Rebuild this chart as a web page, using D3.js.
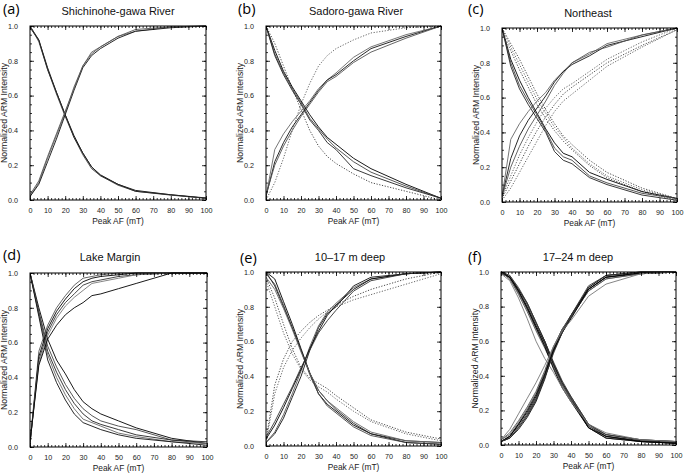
<!DOCTYPE html>
<html><head><meta charset="utf-8">
<script src="https://cdn.jsdelivr.net/npm/d3@7"></script>
<style>body{margin:0;background:#fff}svg{display:block}</style>
</head><body><svg id="c" width="685" height="473"></svg>
<script>
// AF demagnetisation steps (mT)
const afSteps = [0,5,10,15,20,25,30,35,40,50,60,80,100];
const yTicks = [0,0.2,0.4,0.6,0.8,1.0];
const xTicks = [0,10,20,30,40,50,60,70,80,90,100];

// (a) Shichinohe-gawa River
const aDemag = [
 [1.00,0.92,0.76,0.62,0.49,0.37,0.27,0.19,0.145,0.09,0.055,0.03,0.01],
 [1.00,0.91,0.75,0.61,0.48,0.36,0.26,0.18,0.14,0.085,0.05,0.028,0.01],
 [0.99,0.92,0.75,0.62,0.49,0.36,0.27,0.19,0.14,0.09,0.05,0.03,0.012]];
const aAcq = [
 [0.02,0.10,0.24,0.37,0.50,0.65,0.77,0.85,0.88,0.94,0.97,0.995,1.0],
 [0.02,0.09,0.22,0.35,0.49,0.63,0.76,0.83,0.87,0.93,0.97,0.99,1.0],
 [0.03,0.11,0.25,0.38,0.51,0.64,0.77,0.84,0.88,0.94,0.98,0.995,1.0]];

// (b) Sadoro-gawa River
const bDemag = [
 [1.0,0.86,0.74,0.65,0.57,0.49,0.42,0.36,0.32,0.24,0.18,0.09,0.01],
 [1.0,0.84,0.73,0.64,0.56,0.47,0.41,0.35,0.30,0.22,0.16,0.08,0.01],
 [1.0,0.83,0.72,0.63,0.55,0.46,0.40,0.33,0.29,0.18,0.14,0.07,0.01]];
const bAcq = [
 [0.02,0.29,0.38,0.45,0.51,0.57,0.64,0.69,0.73,0.82,0.88,0.95,1.0],
 [0.02,0.22,0.33,0.42,0.49,0.56,0.63,0.69,0.72,0.80,0.87,0.94,1.0],
 [0.03,0.20,0.31,0.40,0.48,0.55,0.62,0.68,0.71,0.79,0.85,0.93,1.0]];
const bDotDemag = [[1.0,0.90,0.77,0.64,0.52,0.40,0.31,0.25,0.21,0.15,0.10,0.05,0.0]];
const bDotAcq = [[0.0,0.10,0.24,0.40,0.55,0.67,0.77,0.83,0.87,0.92,0.96,0.99,1.0]];

// (c) Northeast
const cDemag = [
 [1.0,0.82,0.70,0.60,0.51,0.42,0.34,0.28,0.26,0.17,0.13,0.06,0.02],
 [1.0,0.80,0.67,0.58,0.50,0.41,0.31,0.26,0.24,0.15,0.11,0.05,0.02],
 [1.0,0.78,0.65,0.56,0.48,0.40,0.29,0.24,0.22,0.14,0.10,0.04,0.01]];
const cAcq = [
 [0.03,0.36,0.45,0.52,0.58,0.63,0.70,0.75,0.80,0.85,0.91,0.96,1.0],
 [0.03,0.25,0.38,0.47,0.54,0.61,0.69,0.75,0.79,0.84,0.90,0.95,1.0],
 [0.03,0.20,0.32,0.42,0.50,0.58,0.67,0.74,0.80,0.86,0.89,0.96,1.0]];
const cDotDemag = [
 [1.0,0.91,0.82,0.72,0.62,0.53,0.45,0.38,0.33,0.24,0.17,0.08,0.02],
 [1.0,0.89,0.79,0.69,0.59,0.51,0.43,0.37,0.31,0.22,0.15,0.07,0.02],
 [0.98,0.87,0.76,0.66,0.56,0.48,0.41,0.35,0.30,0.21,0.14,0.06,0.01]];
const cDotAcq = [
 [0.03,0.15,0.27,0.37,0.46,0.54,0.60,0.65,0.68,0.75,0.82,0.92,1.0],
 [0.02,0.12,0.22,0.32,0.41,0.49,0.56,0.62,0.66,0.73,0.80,0.90,0.99],
 [0.01,0.08,0.17,0.26,0.35,0.44,0.52,0.58,0.62,0.70,0.78,0.89,0.99]];

// (d) Lake Margin
const dDemag = [
 [1.0,0.80,0.62,0.50,0.42,0.33,0.26,0.22,0.19,0.15,0.11,0.05,0.02],
 [1.0,0.78,0.58,0.46,0.36,0.28,0.22,0.18,0.15,0.12,0.10,0.04,0.02],
 [1.0,0.77,0.55,0.43,0.33,0.25,0.19,0.15,0.13,0.10,0.07,0.04,0.03],
 [1.0,0.76,0.53,0.40,0.30,0.22,0.16,0.14,0.12,0.08,0.06,0.03,0.02],
 [1.0,0.75,0.50,0.37,0.27,0.19,0.14,0.12,0.10,0.07,0.05,0.03,0.01]];
const dAcq = [
 [0.02,0.55,0.70,0.80,0.87,0.93,0.97,0.98,0.99,1.0,1.0,1.0,1.0],
 [0.02,0.52,0.68,0.78,0.85,0.91,0.95,0.97,0.98,0.99,1.0,1.0,1.0],
 [0.02,0.50,0.66,0.76,0.83,0.88,0.93,0.95,0.96,0.98,0.99,1.0,1.0],
 [0.03,0.48,0.64,0.74,0.81,0.86,0.90,0.94,0.95,0.97,0.99,1.0,1.0],
 [0.03,0.47,0.62,0.70,0.76,0.80,0.83,0.87,0.88,0.91,0.94,1.0,1.0]];

// (e) 10–17 m deep
const eDemag = [
 [1.0,0.96,0.83,0.70,0.56,0.42,0.30,0.24,0.20,0.12,0.07,0.02,0.01],
 [0.99,0.93,0.81,0.68,0.55,0.41,0.30,0.23,0.19,0.11,0.06,0.02,0.01],
 [1.0,0.92,0.80,0.68,0.55,0.42,0.32,0.26,0.21,0.13,0.07,0.03,0.02],
 [0.97,0.90,0.79,0.67,0.54,0.42,0.32,0.26,0.22,0.14,0.08,0.03,0.02]];
const eAcq = [
 [0.02,0.07,0.16,0.28,0.40,0.55,0.68,0.76,0.80,0.92,0.97,0.99,1.0],
 [0.02,0.08,0.18,0.30,0.43,0.57,0.69,0.77,0.82,0.91,0.96,0.99,1.0],
 [0.04,0.12,0.22,0.33,0.44,0.56,0.66,0.75,0.81,0.90,0.96,0.99,1.0],
 [0.05,0.14,0.24,0.34,0.45,0.55,0.65,0.72,0.78,0.89,0.95,0.99,1.0]];
const eDotDemag = [
 [0.97,0.85,0.70,0.56,0.45,0.39,0.36,0.33,0.29,0.22,0.15,0.08,0.04],
 [0.95,0.80,0.65,0.53,0.44,0.38,0.34,0.31,0.27,0.20,0.14,0.07,0.03]];
const eDotAcq = [
 [0.03,0.35,0.50,0.60,0.66,0.71,0.75,0.78,0.81,0.86,0.90,0.96,1.0],
 [0.02,0.30,0.45,0.55,0.62,0.68,0.73,0.77,0.80,0.84,0.87,0.93,0.99]];

// (f) 17–24 m deep
const fDemag = [
 [1.0,0.97,0.89,0.80,0.69,0.59,0.46,0.35,0.27,0.11,0.05,0.025,0.015],
 [1.0,0.98,0.90,0.81,0.70,0.60,0.47,0.36,0.28,0.12,0.05,0.02,0.01],
 [1.0,0.97,0.88,0.79,0.68,0.58,0.46,0.35,0.26,0.10,0.04,0.02,0.01],
 [1.0,0.96,0.88,0.78,0.67,0.57,0.45,0.34,0.26,0.11,0.06,0.03,0.02],
 [0.99,0.97,0.90,0.82,0.71,0.60,0.47,0.36,0.27,0.10,0.04,0.02,0.01],
 [1.0,0.96,0.87,0.77,0.66,0.56,0.45,0.35,0.27,0.12,0.06,0.03,0.02],
 [1.0,0.97,0.89,0.79,0.68,0.57,0.44,0.33,0.25,0.10,0.05,0.02,0.01],
 [1.0,0.98,0.91,0.82,0.71,0.60,0.48,0.37,0.28,0.12,0.06,0.03,0.02],
 [0.99,0.95,0.85,0.73,0.60,0.50,0.42,0.33,0.25,0.12,0.07,0.03,0.02]];
const fAcq = [
 [0.02,0.05,0.12,0.19,0.28,0.40,0.55,0.66,0.74,0.90,0.97,0.995,1.0],
 [0.02,0.04,0.10,0.17,0.26,0.39,0.54,0.66,0.75,0.91,0.98,1.0,1.0],
 [0.02,0.05,0.11,0.18,0.27,0.40,0.56,0.67,0.75,0.90,0.97,0.99,1.0],
 [0.03,0.06,0.13,0.21,0.30,0.42,0.56,0.67,0.74,0.89,0.96,0.99,1.0],
 [0.02,0.04,0.09,0.16,0.25,0.38,0.54,0.65,0.74,0.91,0.98,1.0,1.0],
 [0.03,0.07,0.14,0.22,0.31,0.43,0.57,0.67,0.74,0.89,0.96,0.99,1.0],
 [0.02,0.05,0.12,0.20,0.29,0.41,0.55,0.65,0.73,0.90,0.97,0.995,1.0],
 [0.02,0.04,0.10,0.17,0.26,0.39,0.53,0.65,0.75,0.92,0.98,1.0,1.0],
 [0.03,0.09,0.18,0.27,0.36,0.46,0.57,0.66,0.72,0.86,0.93,0.99,1.0]];

const titles = ["Shichinohe-gawa River","Sadoro-gawa River","Northeast","Lake Margin","10–17 m deep","17–24 m deep"];
const labels = ["(a)","(b)","(c)","(d)","(e)","(f)"];
const xTitle = "Peak AF (mT)";
const yTitle = "Normalized ARM Intensity";

const panelsData = [
 {solid:[...aDemag,...aAcq], dotted:[]},
 {solid:[...bDemag,...bAcq], dotted:[...bDotDemag,...bDotAcq]},
 {solid:[...cDemag,...cAcq], dotted:[...cDotDemag,...cDotAcq]},
 {solid:[...dDemag,...dAcq], dotted:[]},
 {solid:[...eDemag,...eAcq], dotted:[...eDotDemag,...eDotAcq]},
 {solid:[...fDemag,...fAcq], dotted:[]}
];

// layout (pixels)
const layout = [
 {x0:30, x1:206, y0:26, y1:200, lx:3,  ly:13.5, tx:118, ty:14.5},
 {x0:266,x1:441, y0:26, y1:200, lx:238,ly:13.5, tx:356, ty:14.5},
 {x0:502,x1:677, y0:28, y1:202, lx:468,ly:13.5, tx:588, ty:16.5},
 {x0:30, x1:207, y0:273,y1:447, lx:3,  ly:260, tx:110, ty:260.5},
 {x0:266,x1:441, y0:272,y1:446, lx:240,ly:263, tx:350, ty:260.5},
 {x0:501,x1:676, y0:272,y1:445, lx:468,ly:261.5,tx:578, ty:260.5}
];
const greys = ["#000","#444","#222","#666","#111","#555","#000","#333","#777"];

const svg = d3.select("#c");
const FONT = "'Liberation Sans', Arial, Helvetica, sans-serif";

layout.forEach((L,i)=>{
  const x = d3.scaleLinear().domain([0,100]).range([L.x0,L.x1]);
  const y = d3.scaleLinear().domain([0,1]).range([L.y1,L.y0]);
  const g = svg.append("g");
  const line = d3.line().x((d,k)=>x(afSteps[k])).y(d=>y(d));
  const pd = panelsData[i];
  const cid = "clip"+i;
  svg.append("clipPath").attr("id",cid).append("rect")
    .attr("x",L.x0).attr("y",L.y0-1).attr("width",L.x1-L.x0).attr("height",L.y1-L.y0+2);
  const cg = g.append("g").attr("clip-path",`url(#${cid})`);
  pd.dotted.forEach((s,k)=>{
    cg.append("path").attr("d",line(s)).attr("fill","none")
      .attr("stroke", k%2? "#555":"#333").attr("stroke-width",0.9).attr("stroke-dasharray","1.2,1.6");
  });
  pd.solid.forEach((s,k)=>{
    cg.append("path").attr("d",line(s)).attr("fill","none")
      .attr("stroke", greys[k%greys.length]).attr("stroke-width",0.9);
  });

  const xMinor = d3.range(0,101,2);
  const yMinor = d3.range(0,1.0001,0.05);
  const mk = (axis, tr, major, minor, fmt, showLab) => {
    const a1 = g.append("g").attr("transform",tr)
      .call(axis(major.scale).tickValues(major.values).tickSize(major.size).tickPadding(major.pad).tickFormat(showLab?fmt:()=>""));
    const a2 = g.append("g").attr("transform",tr)
      .call(axis(major.scale).tickValues(minor).tickSize(major.size/2).tickFormat(()=>""));
    [a1,a2].forEach(a=>{a.select(".domain").remove(); a.selectAll("line").attr("stroke","#000").attr("stroke-width",0.8);});
    a1.selectAll("text").attr("font-family",FONT).attr("font-size","7.2px").attr("fill","#222");
    if(!showLab) a1.selectAll("text").remove();
    return a1;
  };
  mk(d3.axisBottom, `translate(0,${L.y1})`, {scale:x, values:xTicks, size:-4, pad:8}, xMinor, d3.format("d"), true);
  mk(d3.axisTop, `translate(0,${L.y0})`, {scale:x, values:xTicks, size:-4, pad:3}, xMinor, null, false);
  mk(d3.axisLeft, `translate(${L.x0},0)`, {scale:y, values:yTicks, size:-4, pad:12}, yMinor, d3.format(".1f"), true);
  mk(d3.axisRight, `translate(${L.x1},0)`, {scale:y, values:yTicks, size:-4, pad:3}, yMinor, null, false);

  g.append("rect").attr("x",L.x0).attr("y",L.y0).attr("width",L.x1-L.x0).attr("height",L.y1-L.y0)
    .attr("fill","none").attr("stroke","#000").attr("stroke-width",1);

  g.append("text").attr("x",(L.x0+L.x1)/2).attr("y",L.y1+23.5).attr("text-anchor","middle")
    .attr("font-family",FONT).attr("font-size","8.4px").attr("fill","#222").text(xTitle);
  g.append("text").attr("transform",`translate(${L.x0-23},${(L.y0+L.y1)/2}) rotate(-90)`).attr("text-anchor","middle")
    .attr("font-family",FONT).attr("font-size","8.7px").attr("fill","#222").text(yTitle);
  g.append("text").attr("x",L.tx).attr("y",L.ty).attr("text-anchor","middle")
    .attr("font-family",FONT).attr("font-size","11px").attr("fill","#111").text(titles[i]);
  g.append("text").attr("x",L.lx).attr("y",L.ly)
    .attr("font-family","'Open Sans', 'Noto Sans', sans-serif").attr("font-size","14.5px").attr("fill","#000").text(labels[i]);
});
</script></body></html>
